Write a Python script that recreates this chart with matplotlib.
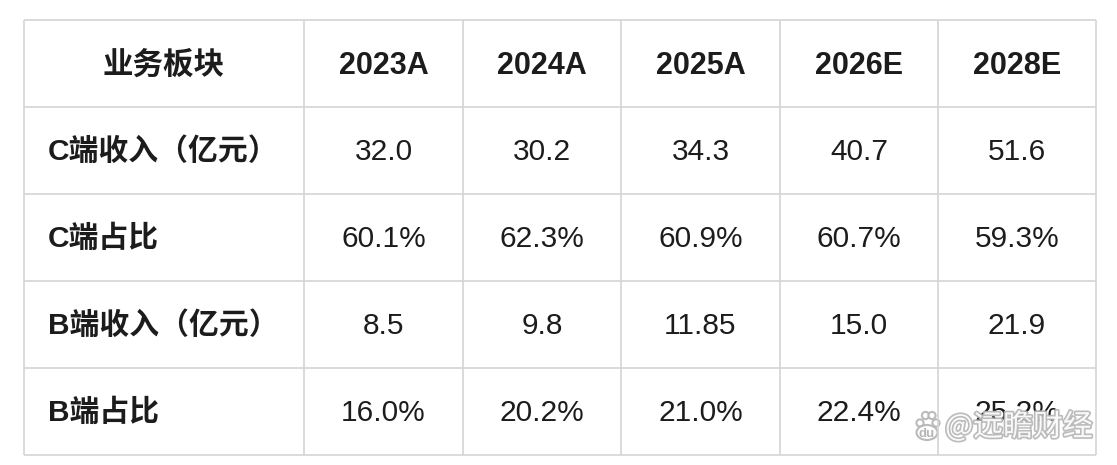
import matplotlib
matplotlib.use("Agg")
import matplotlib.pyplot as plt
import matplotlib.patheffects as pe
from matplotlib.patches import Circle, Ellipse

plt.rcParams['font.family'] = ['Liberation Sans', 'Noto Sans CJK SC', 'DejaVu Sans']

### Data
columns = ["业务板块", "2023A", "2024A", "2025A", "2026E", "2028E"]
row_labels = ["C端收入（亿元）", "C端占比", "B端收入（亿元）", "B端占比"]
c_revenue = ["32.0", "30.2", "34.3", "40.7", "51.6"]
c_share = ["60.1%", "62.3%", "60.9%", "60.7%", "59.3%"]
b_revenue = ["8.5", "9.8", "11.85", "15.0", "21.9"]
b_share = ["16.0%", "20.2%", "21.0%", "22.4%", "25.2%"]
rows = [c_revenue, c_share, b_revenue, b_share]

### Layout (pixel coords)
W, H = 1117, 465
col_edges = [24, 304, 463, 621, 780, 938, 1096]
row_edges = [20, 107, 194, 281, 368, 455]
line_color = '#d4d4d4'
text_color = '#1c1c1c'

fig = plt.figure(figsize=(W / 100, H / 100), dpi=100)
ax = fig.add_axes([0, 0, 1, 1])
ax.set_xlim(0, W)
ax.set_ylim(H, 0)
ax.axis('off')

# grid lines
for x in col_edges:
    ax.plot([x, x], [row_edges[0], row_edges[-1]], color=line_color, lw=1.2, solid_capstyle='butt')
for y in row_edges:
    ax.plot([col_edges[0], col_edges[-1]], [y, y], color=line_color, lw=1.2, solid_capstyle='butt')

# header
for i, name in enumerate(columns):
    cx = (col_edges[i] + col_edges[i + 1]) / 2
    cy = (row_edges[0] + row_edges[1]) / 2 + 2.5
    ax.text(cx, cy, name, ha='center', va='center', fontsize=22,
            fontweight='bold', color=text_color)

# body
for r, (label, vals) in enumerate(zip(row_labels, rows)):
    cy = (row_edges[r + 1] + row_edges[r + 2]) / 2 + 1.5
    ax.text(col_edges[0] + 24, cy, label, ha='left', va='center', fontsize=21.5,
            fontweight='bold', color=text_color)
    for c, v in enumerate(vals):
        cx = (col_edges[c + 1] + col_edges[c + 2]) / 2
        ax.text(cx, cy, v, ha='center', va='center', fontsize=21.5, color=text_color)

# watermark
wm_gray = '#b5b5b5'
ax.text(945, 427, "@远瞻财经", ha='left', va='center', fontsize=21.5,
        color='white', family=['Noto Sans CJK SC', 'DejaVu Sans'], alpha=0.92,
        path_effects=[pe.withStroke(linewidth=2.4, foreground=wm_gray)])
for (px, py, pr) in [(920, 423, 3.6), (925.5, 415.5, 3.6), (932, 415.5, 3.6), (936, 423, 3.6)]:
    ax.add_patch(Circle((px, py), pr, facecolor='white', edgecolor=wm_gray, lw=1.5, alpha=0.92))
ax.add_patch(Ellipse((927, 432.5), 21, 15, facecolor='white', edgecolor=wm_gray, lw=1.5, alpha=0.92))
ax.text(927, 433.5, "du", ha='center', va='center', fontsize=9.5, color=wm_gray, fontweight='bold')

fig.savefig("out.png", dpi=100, facecolor='white')
